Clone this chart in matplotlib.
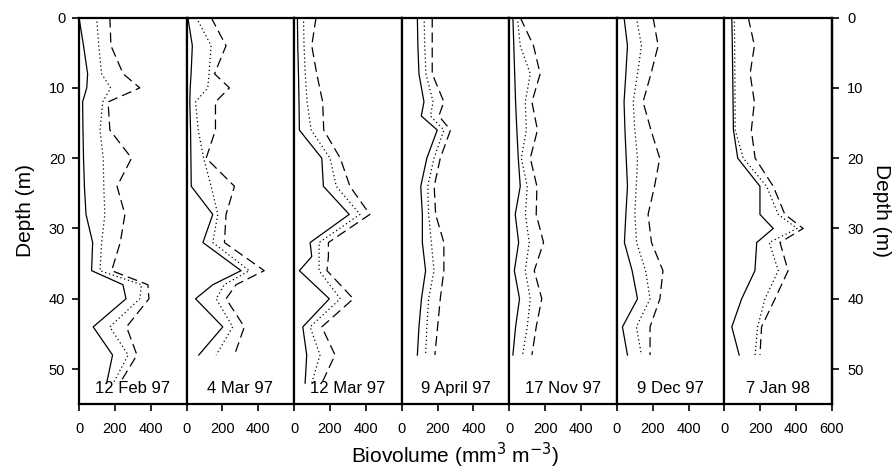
import matplotlib.pyplot as plt

plt.rcParams['font.family'] = ['Liberation Sans', 'DejaVu Sans']

# sampling dates (one panel each)
dates = ['12 Feb 97', '4 Mar 97', '12 Mar 97', '9 April 97',
         '17 Nov 97', '9 Dec 97', '7 Jan 98']

# depth (m) of each sample, per panel
depths = [
    [0, 4, 8, 10, 12, 16, 20, 24, 28, 32, 36, 38, 40, 44, 48, 52],
    [0, 4, 8, 10, 12, 16, 20, 24, 28, 32, 36, 38, 40, 44, 48],
    [0, 4, 8, 12, 16, 20, 24, 28, 32, 34, 36, 40, 44, 48, 52],
    [0, 4, 8, 12, 14, 16, 20, 24, 28, 32, 36, 40, 44, 48],
    [0, 4, 8, 12, 16, 20, 24, 28, 32, 36, 40, 44, 48],
    [0, 4, 8, 12, 16, 20, 24, 28, 32, 36, 40, 44, 48],
    [0, 4, 8, 12, 16, 20, 24, 28, 30, 32, 36, 40, 44, 48],
]

# biovolume (mm3 m-3): solid line
low = [
    [0, 25, 48, 43, 20, 22, 25, 30, 39, 76, 70, 245, 262, 79, 187, 154],
    [7, 32, 25, 20, 18, 22, 24, 26, 146, 91, 304, 146, 50, 202, 68],
    [18, 20, 24, 27, 29, 154, 163, 307, 89, 98, 29, 196, 48, 70, 61],
    [87, 90, 96, 124, 109, 198, 140, 106, 115, 115, 133, 110, 96, 87],
    [20, 25, 30, 35, 42, 50, 61, 33, 52, 28, 57, 35, 20],
    [40, 59, 50, 40, 45, 52, 59, 50, 42, 85, 115, 31, 59],
    [41, 44, 46, 48, 50, 74, 198, 198, 272, 180, 170, 96, 41, 82],
]

# dotted line
mid = [
    [98, 110, 126, 176, 132, 117, 135, 138, 144, 126, 117, 348, 339, 172, 274, 191],
    [54, 137, 125, 118, 50, 65, 95, 137, 174, 146, 350, 210, 165, 257, 165],
    [52, 55, 62, 72, 95, 200, 235, 367, 139, 139, 139, 257, 89, 144, 98],
    [125, 128, 135, 175, 160, 235, 180, 145, 150, 165, 180, 150, 140, 133],
    [45, 61, 117, 89, 95, 67, 100, 90, 111, 89, 117, 100, 74],
    [109, 137, 115, 91, 100, 115, 108, 100, 110, 160, 185, 109, 137],
    [55, 57, 58, 59, 60, 105, 235, 300, 405, 250, 300, 226, 185, 171],
]

# dashed line
high = [
    [172, 178, 246, 339, 162, 172, 293, 212, 256, 230, 182, 384, 390, 265, 323, 228],
    [137, 220, 156, 239, 161, 161, 109, 267, 220, 211, 433, 276, 220, 322, 267],
    [122, 98, 126, 159, 165, 257, 311, 422, 191, 191, 183, 330, 154, 228, 154],
    [170, 170, 170, 235, 207, 272, 215, 181, 189, 235, 235, 215, 200, 185],
    [61, 135, 172, 126, 157, 117, 154, 150, 191, 139, 181, 150, 126],
    [202, 230, 190, 146, 190, 239, 210, 174, 193, 257, 240, 185, 185],
    [133, 167, 143, 167, 150, 171, 272, 337, 439, 310, 355, 282, 207, 198],
]

depth_ticks = [0, 10, 20, 30, 40, 50]

fig, axes = plt.subplots(1, 7, sharey=True, figsize=(8.96, 4.75), dpi=100,
                         gridspec_kw={'wspace': 0})
fig.subplots_adjust(left=0.0882, right=0.9286, bottom=0.149, top=0.963)

for i, ax in enumerate(axes):
    ax.plot(low[i], depths[i], color='black', lw=0.9, ls='-')
    ax.plot(mid[i], depths[i], color='black', lw=0.9, ls=(0, (1, 2.2)))
    ax.plot(high[i], depths[i], color='black', lw=0.9, ls=(0, (8, 4)))
    ax.set_xlim(0, 600)
    ax.set_ylim(55, 0)
    if i < 6:
        ax.set_xticks([0, 200, 400])
    else:
        ax.set_xticks([0, 200, 400, 600])
    ax.text(0.5, 0.02, dates[i], transform=ax.transAxes, ha='center',
            va='bottom', fontsize=12)
    for s in ax.spines.values():
        s.set_linewidth(1.6)
    ax.tick_params(axis='x', direction='out', length=5, width=1.2,
                   labelsize=10.5, pad=8)
    ax.tick_params(axis='y', which='both', left=False, right=False)

axes[0].set_yticks(depth_ticks)
axes[0].tick_params(axis='y', left=True, direction='out', length=5,
                    width=1.2, labelsize=10.5, pad=5)
axes[0].set_ylabel('Depth (m)', fontsize=15, labelpad=10)

rax = axes[6].secondary_yaxis('right')
rax.set_yticks(depth_ticks)
rax.tick_params(direction='out', length=5, width=1.2, labelsize=10.5, pad=6)
rax.spines['right'].set_linewidth(1.6)
rax.set_ylabel('Depth (m)', fontsize=15, rotation=270, labelpad=20)

fig.text(0.508, 0.01, 'Biovolume (mm$^3$ m$^{-3}$)', ha='center',
         va='bottom', fontsize=15)

plt.savefig('out.png', dpi=100)
